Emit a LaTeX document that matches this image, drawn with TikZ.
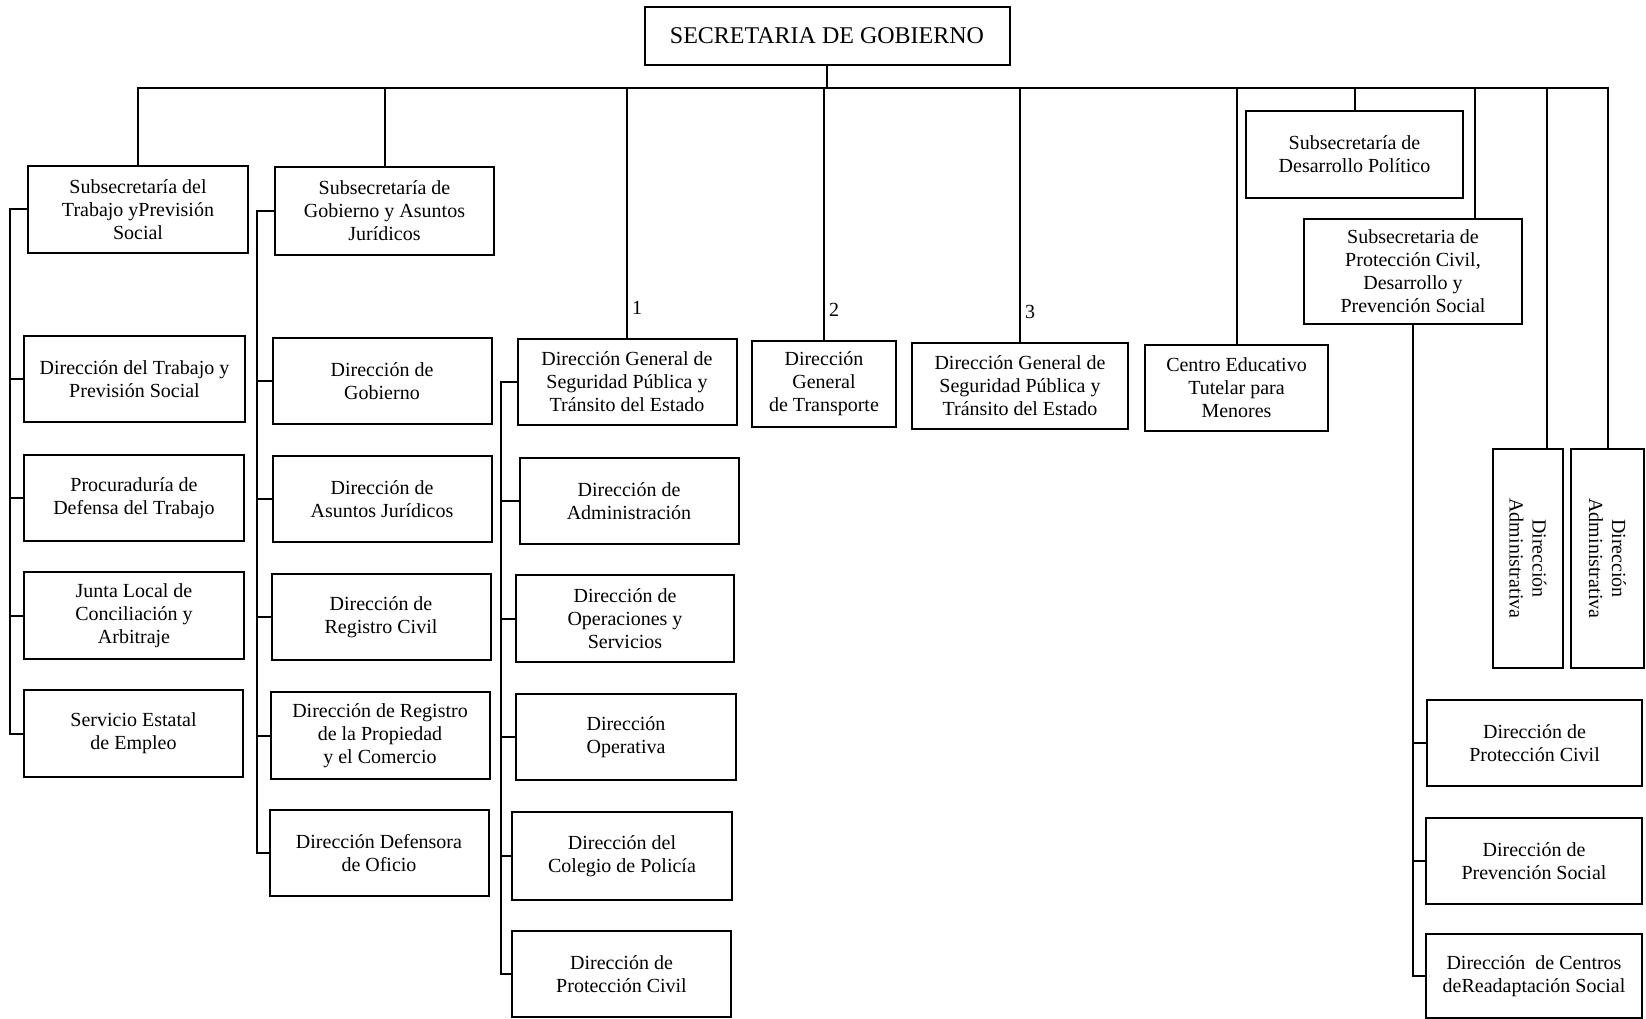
\documentclass[tikz,border=0pt]{standalone}
\usepackage{fontspec}
\setmainfont{Liberation Serif}
\tikzset{
  unit/.style={rectangle, draw=black, fill=white, line width=2pt, align=center, inner sep=2pt, minimum width=219pt, minimum height=86pt, font=\fontsize{20}{23}\selectfont},
  link/.style={line width=2pt},
  num/.style={font=\fontsize{20}{23}\selectfont, inner sep=4pt}
}
\begin{document}
\begin{tikzpicture}[x=1pt, y=-1pt]
\useasboundingbox (0,0) rectangle (1646,1019);
% top
\node [unit, minimum width=365pt, minimum height=58pt, font=\fontsize{24}{28}\selectfont](SG) at (827,36){SECRETARIA DE GOBIERNO};
\coordinate (bus) at (827,88);
% Subsecretaria del Trabajo
\node [unit, minimum width=220pt, minimum height=87pt](ST) at (138,209.5){Subsecretaría del\\Trabajo yPrevisión\\Social};
\node [unit, minimum width=221pt](T1) at (134.5,379){Dirección del Trabajo y\\Previsión Social};
\node [unit, minimum width=220pt](T2) at (134,498){Procuraduría de\\Defensa del Trabajo};
\node [unit, minimum width=220pt, minimum height=87pt](T3) at (134,615.5){Junta Local de\\Conciliación y\\Arbitraje};
\node [unit, minimum height=87pt](T4) at (133.5,733.5){Servicio Estatal\\de Empleo};
\coordinate (eT) at (10,210);
% Subsecretaria de Gobierno
\node [unit, minimum height=88pt](SJ) at (384.5,211){Subsecretaría de\\Gobierno y Asuntos\\Jurídicos};
\node [unit](J1) at (382,381){Dirección de\\Gobierno};
\node [unit](J2) at (382,499){Dirección de\\Asuntos Jurídicos};
\node [unit](J3) at (381,617){Dirección de\\Registro Civil};
\node [unit, minimum height=87pt](J4) at (380,735.5){Dirección de Registro\\de la Propiedad\\y el Comercio};
\node [unit](J5) at (379,853){Dirección Defensora\\de Oficio};
\coordinate (eJ) at (257,211);
% Direccion General de Seguridad
\node [unit](DS) at (627,382){Dirección General de\\Seguridad Pública y\\Tránsito del Estado};
\node [unit](S1) at (629,501){Dirección de\\Administración};
\node [unit, minimum width=218pt, minimum height=87pt](S2) at (625,618.5){Dirección de\\Operaciones y\\Servicios};
\node [unit, minimum width=220pt](S3) at (626,737){Dirección\\Operativa};
\node [unit, minimum width=220pt, minimum height=88pt](S4) at (622,856){Dirección del\\Colegio de Policía};
\node [unit, minimum height=86pt](S5) at (621.5,974){Dirección de\\Protección Civil};
\coordinate (eS) at (501,382);
% other branches
\node [unit, minimum width=144pt](DT) at (824,384){Dirección\\General\\de Transporte};
\node [unit, minimum width=216pt](DE) at (1020,386){Dirección General de\\Seguridad Pública y\\Tránsito del Estado};
\node [unit, minimum width=183pt](CE) at (1236.5,388){Centro Educativo\\Tutelar para\\Menores};
\node [unit, minimum width=217pt, minimum height=87pt](SD) at (1354.5,154.5){Subsecretaría de\\Desarrollo Político};
\node [unit, minimum width=218pt, minimum height=105pt](SP) at (1413,271.5){Subsecretaria de\\Protección Civil,\\Desarrollo y\\Prevención Social};
\node [unit, minimum width=215pt](P1) at (1534.5,743){Dirección de\\Protección Civil};
\node [unit, minimum width=216pt](P2) at (1534,861){Dirección de\\Prevención Social};
\node [unit, minimum width=216pt, minimum height=84pt](P3) at (1534,976){Dirección\ \ de Centros\\deReadaptación Social};
\node [unit, rotate=-90, minimum width=219pt, minimum height=70pt](DA1) at (1528,558.5){Dirección\\Administrativa};
\node [unit, rotate=-90, minimum width=219pt, minimum height=73pt](DA2) at (1607.5,558.5){Dirección\\Administrativa};
% main bus
\draw [link](SG.south) -- (bus);
\draw [link](ST.north) -- (ST.north |- bus) -- (DA2.west |- bus) -- (DA2.west);
\draw [link](SJ.north) -- (SJ.north |- bus);
\draw [link](DS.north) -- node[num, right, pos=0.12]{1} (DS.north |- bus);
\draw [link](DT.north) -- node[num, right, pos=0.12]{2} (DT.north |- bus);
\draw [link](DE.north) -- node[num, right, pos=0.12]{3} (DE.north |- bus);
\draw [link](CE.north) -- (CE.north |- bus);
\draw [link](SD.north) -- (SD.north |- bus);
\draw [link]([xshift=62pt]SP.north) -- ([xshift=62pt]SP.north |- bus);
\draw [link]([xshift=19pt]DA1.west) -- ([xshift=19pt]DA1.west |- bus);
% spines
\draw [link](ST.west) -- (ST.west -| eT) -- (T4.west -| eT) -- (T4.west);
\draw [link](T1.west -| eT) -- (T1.west);
\draw [link](T2.west -| eT) -- (T2.west);
\draw [link](T3.west -| eT) -- (T3.west);
\draw [link](SJ.west) -- (SJ.west -| eJ) -- (J5.west -| eJ) -- (J5.west);
\draw [link](J1.west -| eJ) -- (J1.west);
\draw [link](J2.west -| eJ) -- (J2.west);
\draw [link](J3.west -| eJ) -- (J3.west);
\draw [link](J4.west -| eJ) -- (J4.west);
\draw [link](DS.west) -- (DS.west -| eS) -- (S5.west -| eS) -- (S5.west);
\draw [link](S1.west -| eS) -- (S1.west);
\draw [link](S2.west -| eS) -- (S2.west);
\draw [link](S3.west -| eS) -- (S3.west);
\draw [link](S4.west -| eS) -- (S4.west);
\draw [link](SP.south) -- (SP.south |- P3.west) -- (P3.west);
\draw [link](SP.south |- P1.west) -- (P1.west);
\draw [link](SP.south |- P2.west) -- (P2.west);
\end{tikzpicture}
\end{document}
